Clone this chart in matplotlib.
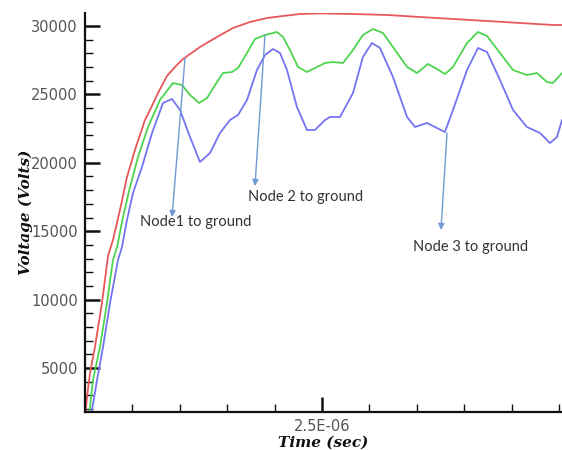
import matplotlib
matplotlib.use("Agg")
import matplotlib.pyplot as plt
from matplotlib.ticker import FixedLocator, MultipleLocator, NullFormatter

# ---- data (time in microseconds, voltage in volts) ----
red_t = [0.0, 0.021, 0.053, 0.105, 0.179, 0.243, 0.295, 0.369, 0.443, 0.527, 0.633, 0.686,
         0.770, 0.865, 0.949, 1.034, 1.213, 1.392, 1.561, 1.741, 1.920, 2.089, 2.268, 2.479,
         2.827, 3.186, 3.534, 3.882, 4.241, 4.589, 4.937, 5.032]
red_v = [1200, 2880, 4634, 6535, 9751, 13187, 14357, 16550, 18962, 20936, 23129, 23860,
         25102, 26345, 27003, 27588, 28465, 29196, 29854, 30292, 30585, 30731, 30877, 30920,
         30877, 30804, 30658, 30512, 30366, 30219, 30073, 30073]

green_t = [0.032, 0.053, 0.084, 0.158, 0.232, 0.295, 0.338, 0.401, 0.475, 0.559, 0.665, 0.791,
           0.928, 1.023, 1.108, 1.203, 1.287, 1.392, 1.456, 1.551, 1.614, 1.709, 1.793, 1.899,
           2.025, 2.089, 2.162, 2.247, 2.342, 2.447, 2.532, 2.616, 2.722, 2.827, 2.932, 3.038,
           3.143, 3.249, 3.397, 3.502, 3.618, 3.713, 3.797, 3.882, 4.030, 4.146, 4.241, 4.378,
           4.515, 4.662, 4.768, 4.873, 4.937, 5.032]
green_v = [1200, 2149, 4123, 6535, 9751, 12895, 13845, 16038, 18231, 20424, 22617, 24591,
           25833, 25687, 24956, 24371, 24737, 25906, 26564, 26637, 26930, 28026, 29050, 29342,
           29561, 29196, 28246, 27003, 26637, 27003, 27295, 27368, 27295, 28246, 29342, 29781,
           29488, 28465, 27003, 26564, 27222, 26857, 26491, 27003, 28757, 29561, 29269, 28026,
           26784, 26418, 26564, 25906, 25833, 26564]

blue_t = [0.063, 0.074, 0.127, 0.190, 0.264, 0.348, 0.390, 0.443, 0.506, 0.601, 0.707, 0.823,
          0.918, 1.002, 1.108, 1.213, 1.319, 1.424, 1.530, 1.614, 1.709, 1.814, 1.899, 1.983,
          2.057, 2.131, 2.236, 2.342, 2.426, 2.532, 2.584, 2.690, 2.827, 2.932, 3.027, 3.112,
          3.249, 3.397, 3.481, 3.608, 3.692, 3.797, 3.882, 4.030, 4.146, 4.241, 4.378, 4.515,
          4.662, 4.800, 4.905, 4.979, 5.032]
blue_v = [1200, 1930, 4123, 6535, 9751, 12895, 13845, 15819, 17792, 19693, 22178, 24371,
          24663, 23860, 21886, 20058, 20716, 22178, 23129, 23494, 24591, 26784, 27880, 28319,
          28026, 26784, 24079, 22398, 22398, 23129, 23348, 23348, 25102, 27734, 28757, 28392,
          26272, 23348, 22617, 22909, 22617, 22251, 23860, 26784, 28392, 28099, 26053, 23860,
          22617, 22178, 21447, 21886, 23129]

# annotations: (label, text pos, arrow tail, arrow tip) in (us, V)
ann_labels = ["Node1 to ground", "Node 2 to ground", "Node 3 to ground"]
ann_text_xy = [(0.580, 15672), (1.719, 17500), (3.460, 13845)]
ann_tail_xy = [(1.055, 27661), (1.899, 29342), (3.819, 22178)]
ann_tip_xy = [(0.918, 16038), (1.793, 18304), (3.755, 15087)]

x_major = [2.5e-6]
x_major_labels = ["2.5E-06"]

US = 1e-6

fig = plt.figure(figsize=(5.62, 4.5), dpi=100)
ax = fig.add_axes([85/562, 1-412/450, 477/562, 399/450])

lw = 1.3
kw = dict(lw=lw, solid_joinstyle="round", solid_capstyle="round")
ax.plot([t*US for t in red_t], red_v, color="#e8585a", **kw)
ax.plot([t*US for t in green_t], green_v, color="#4fd44f", **kw)
ax.plot([t*US for t in blue_t], blue_v, color="#7474f2", **kw)

ax.set_xlim(0, 5.032e-6)
ax.set_ylim(1784, 30950)

for sp in ["top", "right"]:
    ax.spines[sp].set_visible(False)
for sp in ["left", "bottom"]:
    ax.spines[sp].set_linewidth(1.6)
    ax.spines[sp].set_color("#111111")

ax.xaxis.set_major_locator(FixedLocator(x_major))
ax.set_xticklabels(x_major_labels)
ax.xaxis.set_minor_locator(MultipleLocator(0.5e-6))
ax.yaxis.set_major_locator(MultipleLocator(5000))
ax.yaxis.set_minor_locator(MultipleLocator(1000))
ax.yaxis.set_minor_formatter(NullFormatter())

ax.tick_params(which="major", direction="in", length=11, width=1.8, color="#111111",
               labelsize=10.5, labelcolor="#555555", pad=5)
ax.tick_params(which="minor", direction="in", length=6, width=1.0, color="#111111")

lab_font = dict(family="DejaVu Serif", style="italic", weight="bold", size=11, color="#111111")
ax.set_xlabel("Time (sec)", **lab_font)
ax.set_ylabel("Voltage (Volts)", **lab_font)
ax.xaxis.set_label_coords(0.499, -0.06)
ax.yaxis.set_label_coords(-0.11, 0.5)

for lab, txy, tail, tip in zip(ann_labels, ann_text_xy, ann_tail_xy, ann_tip_xy):
    ax.text(txy[0]*US, txy[1], lab, ha="left", va="center", fontsize=10.5,
            family="Lato", color="#333333")
    ax.annotate("", xy=(tip[0]*US, tip[1]), xytext=(tail[0]*US, tail[1]),
                arrowprops=dict(arrowstyle="-|>", color="#6f9bd1", lw=1.0,
                                mutation_scale=9, shrinkA=0, shrinkB=0))

fig.savefig("out.png", dpi=100)
